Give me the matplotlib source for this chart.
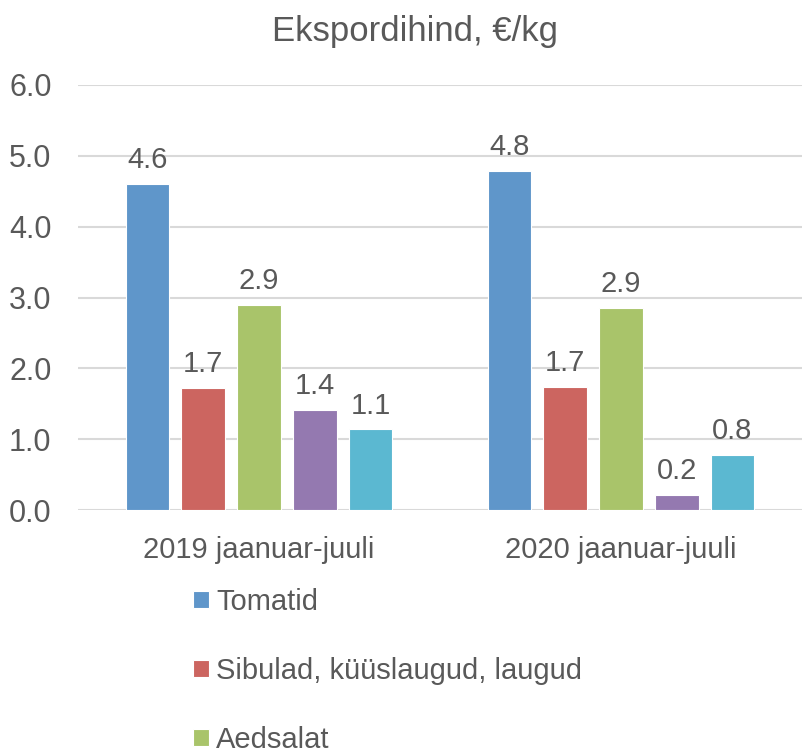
import numpy as np
import matplotlib
matplotlib.use('Agg')
from matplotlib import pyplot as plt

plt.rcParams['font.family'] = ['Liberation Sans', 'DejaVu Sans']

# data
groups = ['2019 jaanuar-juuli', '2020 jaanuar-juuli']
series = ['Tomatid', 'Sibulad, küüslaugud, laugud', 'Aedsalat', 'Seened', 'Muu']
values = [
    [4.60, 4.79],   # Tomatid
    [1.72, 1.74],   # Sibulad
    [2.90, 2.85],   # Aedsalat
    [1.41, 0.21],   # purple
    [1.14, 0.78],   # cyan
]
colours = ['#5F96CA', '#CC6560', '#A9C46A', '#9479B0', '#5BB8D1']

txt = '#595959'
fig = plt.figure(figsize=(8.02, 7.5), dpi=100)
ax = fig.add_axes([78/802, 1-510/750, 1-78/802, 425/750])

x = np.arange(len(groups))
step = 0.154
width = 0.121
handles = []
for i, (name, vals) in enumerate(zip(series, values)):
    pos = x + (i - 2) * step
    b = ax.bar(pos, vals, width, color=colours[i], edgecolor='white', linewidth=0.8, label=name, zorder=3)
    handles.append(b)
    for px, v in zip(pos, vals):
        ax.annotate('%.1f' % v, (px, v), xytext=(0, 7), textcoords='offset points',
                    ha='center', va='bottom', fontsize=21, color=txt)

ax.set_xlim(-0.5, 1.5)
ax.set_ylim(0, 6)
ax.set_yticks(np.arange(0, 6.01, 1.0))
ax.set_yticklabels(['%.1f' % t for t in np.arange(0, 6.01, 1.0)])
ax.set_xticks(x)
ax.set_xticklabels(groups)
ax.tick_params(axis='both', length=0, labelcolor=txt)
ax.tick_params(axis='y', pad=19, labelsize=22)
ax.tick_params(axis='x', pad=19, labelsize=21)
ax.yaxis.grid(True, color='#d9d9d9', linewidth=1.5, zorder=0)
for s in ax.spines.values():
    s.set_visible(False)

fig.text(415/802, 1-32/750, 'Ekspordihind, €/kg', ha='center', va='center', fontsize=25, color=txt)

leg = fig.legend(handles=handles, loc='upper left', bbox_to_anchor=(193/802, 1-588/750),
                 frameon=False, fontsize=21, labelcolor=txt, handlelength=0.55, handleheight=0.55,
                 handletextpad=0.25, labelspacing=1.4, borderaxespad=0, borderpad=0)

fig.savefig('out.png', dpi=100)
